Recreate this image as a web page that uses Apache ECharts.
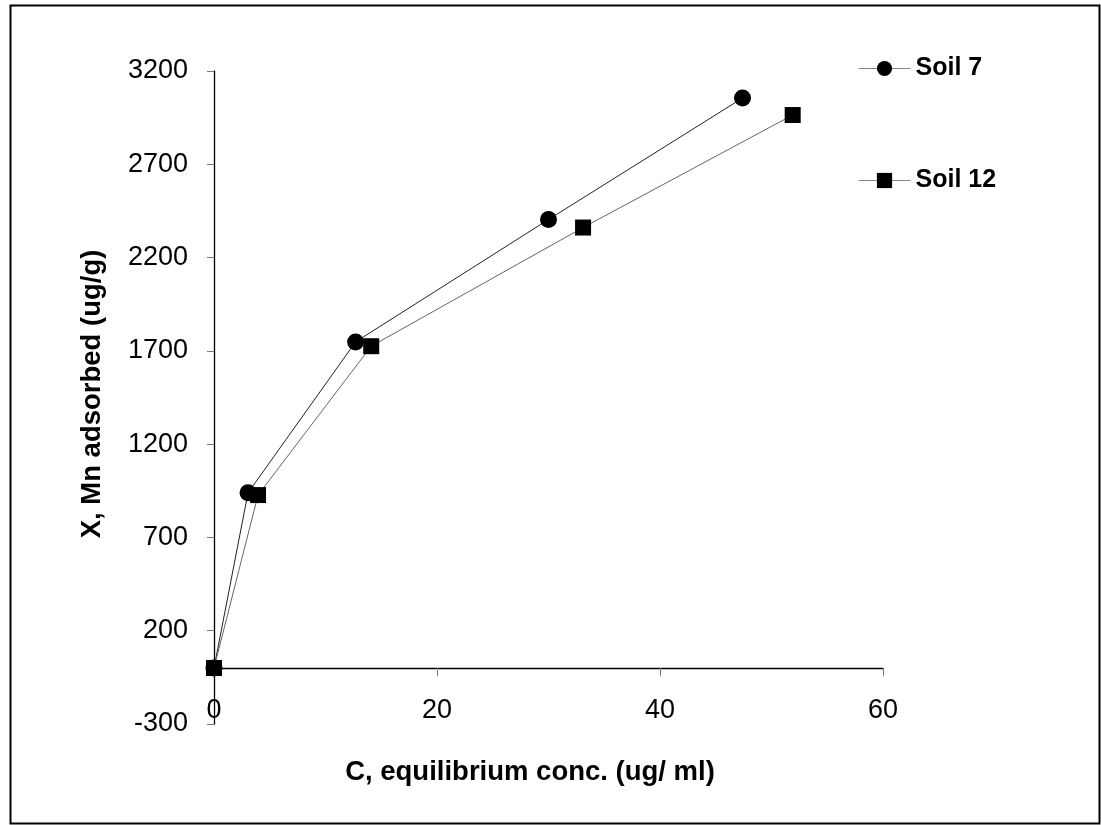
<!DOCTYPE html>
<html>
<head>
<meta charset="utf-8">
<script src="https://cdn.jsdelivr.net/npm/echarts@6/dist/echarts.min.js"></script>
<style>
html,body{margin:0;padding:0;background:#fff;}
#chart{width:1101px;height:825px;}
</style>
</head>
<body>
<div id="chart"></div>
<script>
// Data
const seriesNames = ['Soil 7', 'Soil 12'];
const soil7X = [0, 3.05, 12.7, 30.0, 47.4];
const soil7Y = [0, 939, 1748, 2404, 3055];
const soil12X = [0, 3.95, 14.1, 33.1, 51.9];
const soil12Y = [0, 927, 1725, 2361, 2964];
const xTicks = [0, 20, 40, 60];
const yTicks = [-300, 200, 700, 1200, 1700, 2200, 2700, 3200];
const xTitle = 'C, equilibrium conc. (ug/ ml)';
const yTitle = 'X, Mn adsorbed (ug/g)';

const FONT = '"Liberation Sans", Arial, sans-serif';
const pairs = (xs, ys) => xs.map((x, i) => [x, ys[i]]);

const chart = echarts.init(document.getElementById('chart'), null, {renderer: 'canvas'});
chart.setOption({
  backgroundColor: '#fff',
  animation: false,
  grid: {left: 214, top: 71, width: 669, height: 653, containLabel: false},
  xAxis: {
    type: 'value',
    min: xTicks[0], max: xTicks[xTicks.length - 1], interval: xTicks[1] - xTicks[0],
    axisLine: {show: true, onZero: true, lineStyle: {color: '#000', width: 1.3}},
    axisTick: {show: true, inside: false, length: 8, lineStyle: {color: '#777', width: 1}},
    axisLabel: {margin: -27, fontSize: 27, color: '#000', fontFamily: FONT,
                formatter: v => String(v)},
    splitLine: {show: false}
  },
  yAxis: {
    type: 'value',
    min: yTicks[0], max: yTicks[yTicks.length - 1], interval: yTicks[1] - yTicks[0],
    axisLine: {show: true, onZero: true, lineStyle: {color: '#000', width: 1.3}},
    axisTick: {show: true, inside: false, length: 7, lineStyle: {color: '#777', width: 1}},
    axisLabel: {margin: 26, fontSize: 27, color: '#000', fontFamily: FONT,
                formatter: v => String(v)},
    splitLine: {show: false}
  },
  legend: {
    orient: 'vertical',
    left: 858, top: 56, padding: 0,
    itemWidth: 52, itemHeight: 19, itemGap: 87,
    textStyle: {fontSize: 25, lineHeight: 25, fontWeight: 'bold', color: '#000', fontFamily: FONT},
    lineStyle: {color: '#888', width: 1},
    data: seriesNames
  },
  series: [
    {
      name: seriesNames[0], type: 'line',
      data: pairs(soil7X, soil7Y),
      symbol: 'circle', symbolSize: 17,
      itemStyle: {color: '#000'},
      lineStyle: {color: '#222', width: 1},
      z: 2
    },
    {
      name: seriesNames[1], type: 'line',
      data: pairs(soil12X, soil12Y),
      symbol: 'rect', symbolSize: 16,
      itemStyle: {color: '#000'},
      lineStyle: {color: '#666', width: 1},
      z: 3
    }
  ],
  graphic: [
    {type: 'rect', left: 8, top: 3, shape: {width: 1089, height: 818},
     style: {fill: 'none', stroke: '#000', lineWidth: 2}, silent: true, z: -1},
    {type: 'text', x: 530, y: 772,
     style: {text: xTitle, fontSize: 27.5, fontWeight: 'bold', fill: '#000', fontFamily: FONT,
             textAlign: 'center', textVerticalAlign: 'middle'}},
    {type: 'text', x: 92, y: 394, rotation: Math.PI / 2,
     style: {text: yTitle, fontSize: 27.5, fontWeight: 'bold', fill: '#000', fontFamily: FONT,
             textAlign: 'center', textVerticalAlign: 'middle'}}
  ]
});
</script>
</body>
</html>
